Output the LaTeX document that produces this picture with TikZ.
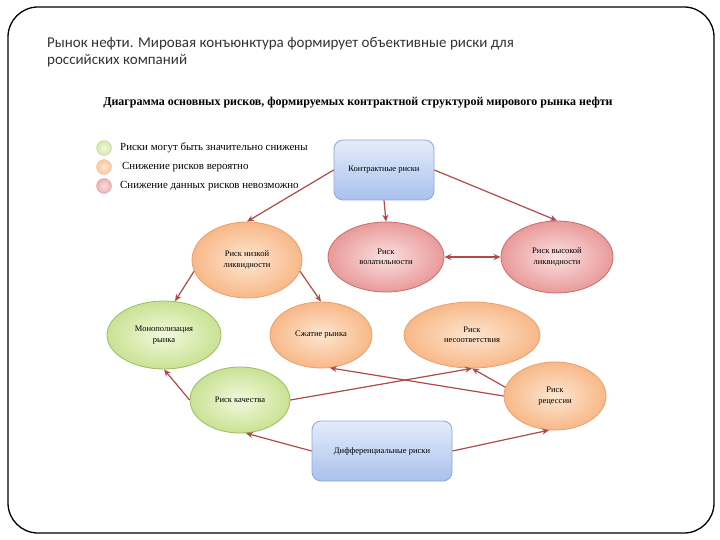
\documentclass[tikz,border=0pt]{standalone}
\usepackage{fontspec}
\setmainfont{Liberation Serif}
\newfontfamily\titlefont{Carlito}
\usetikzlibrary{arrows.meta,shapes.geometric}
\definecolor{arr}{HTML}{B04A48}
\definecolor{gin}{HTML}{F2F9DC}\definecolor{gout}{HTML}{C9E294}\definecolor{gbd}{HTML}{9DBB61}
\definecolor{oin}{HTML}{FDE6D0}\definecolor{oout}{HTML}{F8B888}\definecolor{obd}{HTML}{E8A070}
\definecolor{pin}{HTML}{FBE0E0}\definecolor{pout}{HTML}{E99A9A}\definecolor{pbd}{HTML}{C86E6C}
\definecolor{btop}{HTML}{E4ECFA}\definecolor{bbot}{HTML}{A9C1EE}\definecolor{bbd}{HTML}{8FA6D6}
\tikzset{
  x=1pt,y=-1pt,
  ell/.style={ellipse,draw,line width=0.8pt,inner sep=0pt,font=\fontsize{8.5}{10.5}\selectfont,align=center},
  gr/.style={ell,draw=gbd,shading=radial,inner color=gin,outer color=gout},
  og/.style={ell,draw=obd,shading=radial,inner color=oin,outer color=oout},
  pk/.style={ell,draw=pbd,shading=radial,inner color=pin,outer color=pout},
  bx/.style={draw=bbd,line width=0.8pt,rounded corners=9pt,top color=btop,bottom color=bbot,font=\fontsize{8.5}{10.5}\selectfont,align=center},
  con/.style={draw=arr,line width=1.2pt,-{Stealth[length=7pt,width=6pt]}},
  dcon/.style={draw=arr,line width=1.2pt,{Stealth[length=7pt,width=6pt]}-{Stealth[length=7pt,width=6pt]}},
  leg/.style={anchor=west,font=\fontsize{10.9}{12}\selectfont,inner sep=0pt},
  legc/.style={circle,minimum size=15pt,inner sep=0pt,shading=radial}
}
\begin{document}
\begin{tikzpicture}
\useasboundingbox (0,0) rectangle (720,540);
\fill[white] (0,0) rectangle (720,540);
\draw[line width=1.3pt,rounded corners=30pt] (8,7) rectangle (714,533);
\node[anchor=north west,align=left,inner sep=0pt,text=black!80,font=\titlefont\fontsize{15}{17.5}\selectfont] (title) at (47,37)
  {Рынок нефти. Мировая конъюнктура формирует объективные риски для\\российских компаний};
\node[font=\bfseries\fontsize{12}{14}\selectfont,inner sep=0pt] (sub) at (358,103)
  {Диаграмма основных рисков, формируемых контрактной структурой мирового рынка нефти};
% legend
\node[legc,draw=gbd!60,inner color=gin,outer color=gout!80] (l1) at (104,148) {};
\node[legc,draw=obd!60,inner color=oin,outer color=oout!80] (l2) at (104,167) {};
\node[legc,draw=pbd!60,inner color=pin,outer color=pout!80] (l3) at (104,186) {};
\node[leg] (t1) at (120,148) {Риски могут быть значительно снижены};
\node[leg] (t2) at (122,167) {Снижение рисков вероятно};
\node[leg] (t3) at (120,186) {Снижение данных рисков невозможно};
% nodes
\node[bx,minimum width=100pt,minimum height=60pt] (kr) at (384,170) {Контрактные риски};
\node[og,minimum width=110pt,minimum height=76pt] (nl) at (247,260) {Риск низкой\\ликвидности};
\node[pk,minimum width=116pt,minimum height=70pt] (vol) at (386,257) {Риск\\волатильности};
\node[pk,minimum width=112pt,minimum height=72pt] (vl) at (557,257) {Риск высокой\\ликвидности};
\node[gr,minimum width=114pt,minimum height=68pt] (mon) at (164,335) {Монополизация\\рынка};
\node[og,minimum width=102pt,minimum height=66pt] (sz) at (321,335) {Сжатие рынка};
\node[og,minimum width=136pt,minimum height=66pt] (nes) at (472,335) {Риск\\несоответствия};
\node[gr,minimum width=100pt,minimum height=66pt] (kach) at (240,400) {Риск качества};
\node[og,minimum width=102pt,minimum height=68pt] (rec) at (555,396) {Риск\\рецессии};
\node[bx,minimum width=140pt,minimum height=60pt] (dif) at (382,451) {Дифференциальные риски};
% connectors
\draw[con] (kr.west) -- (nl.north);
\draw[con] (kr.south) -- (vol.north);
\draw[con] (kr.east) -- (vl.north);
\draw[dcon] (vol.east) -- (vl.west);
\draw[con] (nl.192) -- (mon.72);
\draw[con] (nl.-12) -- (sz.north);
\draw[con] (kach.west) -- (mon.south);
\draw[con] (kach.east) -- (nes.south);
\draw[con] (rec.170) -- (nes.south);
\draw[con] (rec.west) -- (sz.-75);
\draw[con] (dif.west) -- (kach.-80);
\draw[con] (dif.east) -- (rec.-100);
\end{tikzpicture}
\end{document}
